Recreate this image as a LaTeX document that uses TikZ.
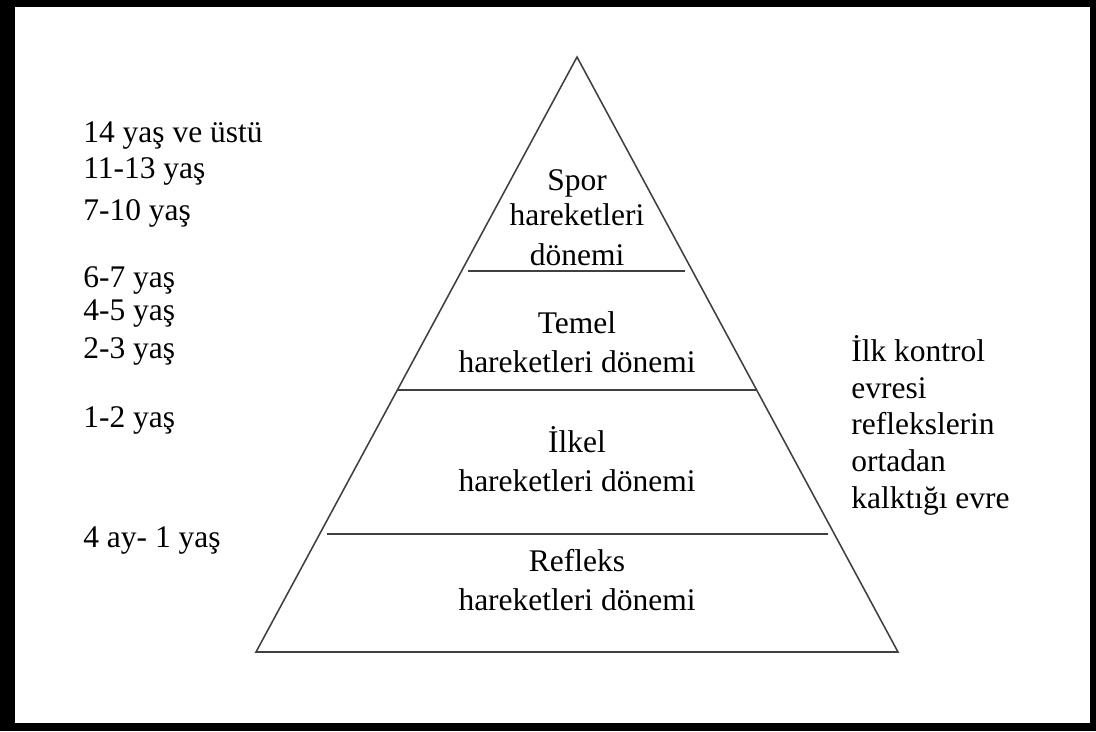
\documentclass[tikz,border=0pt]{standalone}
\usepackage{fontspec}
\setmainfont{Liberation Serif}
\tikzset{
  yas/.style={anchor=base west,inner sep=0pt,font=\fontsize{22.4}{27.7}\selectfont},
  donem/.style={anchor=base,inner sep=0pt,align=center,font=\fontsize{22.4}{27.7}\selectfont},
  evre/.style={anchor=base west,inner sep=0pt,align=left,font=\fontsize{22.4}{26}\selectfont},
  piramit/.style={draw=black!75,line width=1.1pt}
}
\begin{document}
\begin{tikzpicture}[x=0.025cm,y=-0.025cm]
  \useasboundingbox (0,0) rectangle (1096,731);
  \fill[black] (0,0) rectangle (1096,731);
  \fill[white] (15,7) rectangle (1090,723);
  \draw[piramit,line join=miter] (577,57) -- (898,652) -- (256,652) -- cycle;
  \draw[piramit] (468,271) -- (685,271);
  \draw[piramit] (398,390) -- (757,390);
  \draw[piramit] (327,534) -- (828,534);
  % base anchor sits on the last line
  \node[donem] (spor) at (577,265) {Spor\\[-2.8pt]hareketleri\\[0.7pt]dönemi};
  \node[donem] (temel) at (577,372) {Temel\\hareketleri dönemi};
  \node[donem] (ilkel) at (577,491) {İlkel\\hareketleri dönemi};
  \node[donem] (refleks) at (577,610) {Refleks\\hareketleri dönemi};
  \node[yas] (y14) at (83,142) {14 yaş ve üstü};
  \node[yas] (y11) at (83,178) {11-13 yaş};
  \node[yas] (y7) at (83,220) {7-10 yaş};
  \node[yas] (y6) at (83,287) {6-7 yaş};
  \node[yas] (y4) at (83,320) {4-5 yaş};
  \node[yas] (y2) at (83,358) {2-3 yaş};
  \node[yas] (y1) at (83,427) {1-2 yaş};
  \node[yas] (ay4) at (83,547) {4 ay- 1 yaş};
  \node[evre] (kontrol) at (851,508) {İlk kontrol\\evresi\\reflekslerin\\ortadan\\kalktığı evre};
\end{tikzpicture}
\end{document}
